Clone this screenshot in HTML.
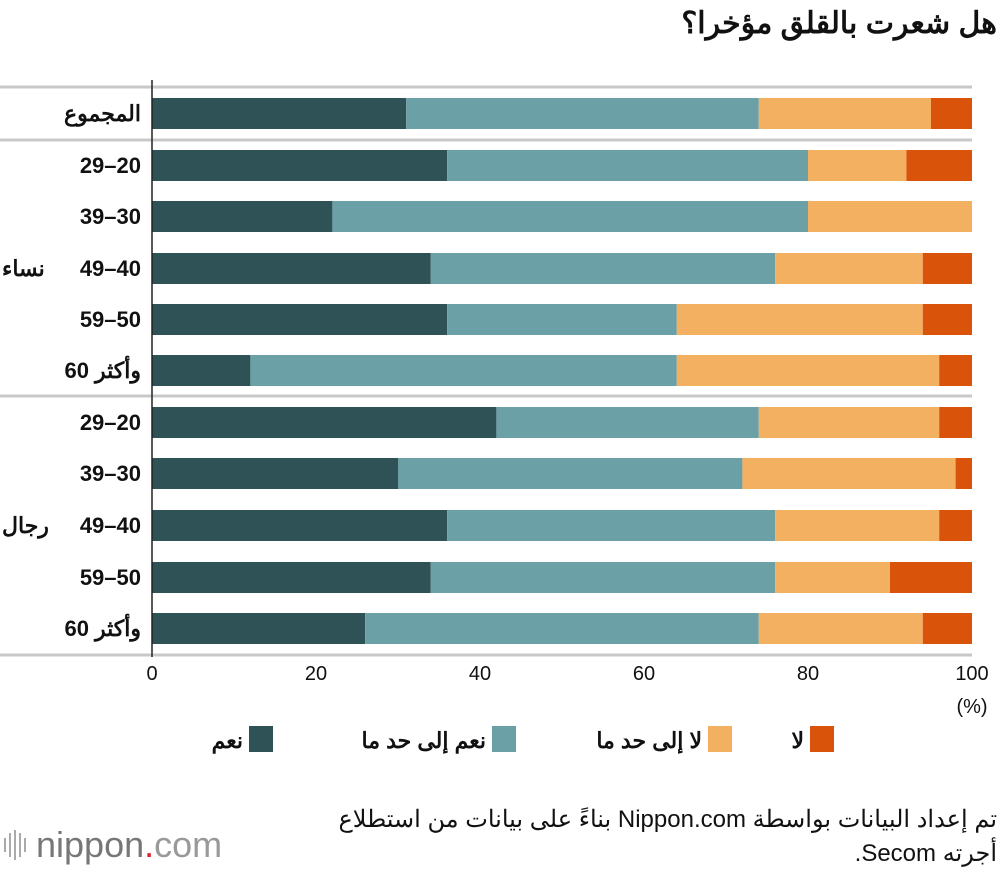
<!DOCTYPE html>
<html lang="ar"><head><meta charset="utf-8">
<style>
body{margin:0;width:1000px;height:870px;background:#fff;overflow:hidden;font-family:"Liberation Sans","Noto Sans CJK SC",sans-serif;}
svg text{font-family:"Liberation Sans","Noto Sans CJK SC",sans-serif;}
</style></head>
<body>
<svg id="chart" width="1000" height="870" xmlns="http://www.w3.org/2000/svg">
<text x="997" y="33" text-anchor="end" font-size="30" font-weight="bold" fill="#111">هل شعرت بالقلق مؤخرا؟</text>
</svg>
<script>
const categories = ["المجموع","29–20","39–30","49–40","59–50","60 وأكثر","29–20","39–30","49–40","59–50","60 وأكثر"];
const yesVals = [31,36,22,34,36,12,42,30,36,34,26];
const somewhatYesVals = [43,44,58,42,28,52,32,42,40,42,48];
const somewhatNoVals = [21,12,20,18,30,32,22,26,20,14,20];
const noVals = [5,8,0,6,6,4,4,2,4,10,6];
const seriesNames = ["نعم","نعم إلى حد ما","لا إلى حد ما","لا"];
const tickLabels = [0,20,40,60,80,100];

const NS="http://www.w3.org/2000/svg";
const svg=document.getElementById('chart');
const colors=["#2f5257","#6ba0a6","#f2b060","#d9530a"];
const x0=152,x1=972;
const xs=v=>x0+(x1-x0)*v/100;
const rowY=[113,165,216,268,319,370,422,473,525,577,628];
const ys=i=>rowY[i];
function mk(tag,attrs,txt){const e=document.createElementNS(NS,tag);for(const k in attrs)e.setAttribute(k,attrs[k]);if(txt!==undefined)e.textContent=txt;svg.appendChild(e);return e;}

[87,140,396,655].forEach((y,i)=>{
 const l=mk('rect',{x:0,y:y-1.5,width:x1,height:3,fill:'#c8c8c8'});
 
 
});
const series=[yesVals,somewhatYesVals,somewhatNoVals,noVals];
categories.forEach((c,i)=>{
 let acc=0;
 series.forEach((s,k)=>{
  const v=s[i];
  if(v>0){
   const r=mk('rect',{x:xs(acc),y:ys(i)-15,width:xs(acc+v)-xs(acc),height:31,fill:colors[k]});
   
   
  }
  acc+=v;
 });
 const m=c.match(/^(\d+) (.+)$/);
 if(m){
  const t=mk('text',{x:141,y:ys(i)+8,'text-anchor':'end','font-size':22,'font-weight':'bold',fill:'#111'},m[2]);
  
  
  const w=t.getComputedTextLength();
  const n=mk('text',{x:141-w-6,y:ys(i)+8,'text-anchor':'end','font-size':22,'font-weight':'bold',fill:'#111'},m[1]);
  
  
 } else {
  const t=mk('text',{x:141,y:ys(i)+8,'text-anchor':'end','font-size':22,'font-weight':'bold',fill:'#111'},c);
  
  
 }
});
const g1=mk('text',{x:2,y:ys(3)+8,'text-anchor':'start','font-size':22,'font-weight':'bold',fill:'#111'},"نساء");


const g2=mk('text',{x:2,y:ys(8)+8,'text-anchor':'start','font-size':22,'font-weight':'bold',fill:'#111'},"رجال");


mk('line',{x1:x0,y1:80,x2:x0,y2:657,stroke:'#222','stroke-width':1.5});
tickLabels.forEach(v=>{
 const t=mk('text',{x:xs(v),y:680,'text-anchor':'middle','font-size':20,fill:'#111'},String(v));
 
 
});
const pu=mk('text',{x:972,y:713,'text-anchor':'middle','font-size':20,fill:'#111'},"(%)");


const legX=[249,492,708,810];
seriesNames.forEach((n,k)=>{
 const r=mk('rect',{x:legX[k],y:726,width:24,height:26,fill:colors[k]});
 
 
 const t=mk('text',{x:legX[k]-6,y:748,'text-anchor':'end','font-size':22,'font-weight':'bold',fill:'#111'},n);
 
 
});
const f1=mk('text',{x:997,y:827,'text-anchor':'start',direction:'rtl','font-size':24,fill:'#111'},"تم إعداد البيانات بواسطة Nippon.com بناءً على بيانات من استطلاع");


const f2=mk('text',{x:997,y:861,'text-anchor':'start',direction:'rtl','font-size':24,fill:'#111'},"أجرته Secom.");


[4,9,14,19,24].forEach((dx,i)=>{mk('rect',{x:dx,y:[838,833,830,833,838][i],width:2,height:[14,24,30,24,14][i],fill:'#aaa'});});
const logo=mk('text',{x:36,y:857,'font-size':36,fill:'#777'},"");


const s1=document.createElementNS(NS,'tspan');s1.textContent="nippon";logo.appendChild(s1);
const s2=document.createElementNS(NS,'tspan');s2.textContent=".";s2.setAttribute('fill','#e0202a');logo.appendChild(s2);
const s3=document.createElementNS(NS,'tspan');s3.textContent="com";s3.setAttribute('fill','#999');logo.appendChild(s3);
</script>
</body></html>
